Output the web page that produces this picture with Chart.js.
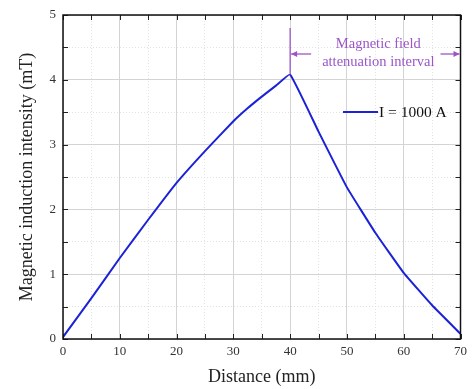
<!DOCTYPE html>
<html>
<head>
<meta charset="utf-8">
<script src="https://cdn.jsdelivr.net/npm/chart.js@4/dist/chart.umd.min.js"></script>
<style>
html,body{margin:0;padding:0;background:#fff;}
#wrap{width:472px;height:389px;position:relative;}
</style>
</head>
<body>
<div id="wrap"><canvas id="c" width="472" height="389"></canvas></div>
<script>
// ---- data ----
const distance = [0, 5, 10, 15, 20, 25, 30, 32.5, 35, 37.5, 40, 45, 50, 55, 60, 65, 70];
const induction = [0.03, 0.63, 1.25, 1.84, 2.41, 2.90, 3.36, 3.56, 3.74, 3.91, 4.08, 3.20, 2.34, 1.64, 1.02, 0.52, 0.08];
const seriesLabel = 'I = 1000 A';
const xTitle = 'Distance (mm)';
const yTitle = 'Magnetic induction intensity (mT)';
const annotationLines = ['Magnetic field', 'attenuation interval'];
const intervalStart = 40;
const intervalEnd = 70;

const FONT = "'Liberation Serif', 'Times New Roman', serif";
const PURPLE = '#9b55c8';
const BLUE = '#1c22d6';

const framePlugin = {
  id: 'frame',
  afterDraw(chart) {
    const {ctx, chartArea: a, scales: {x, y}} = chart;
    ctx.save();
    // inward ticks
    ctx.strokeStyle = '#222';
    ctx.lineWidth = 1;
    const tl = 5;
    for (let v = 0; v <= 70; v += 5) {
      const px = Math.round(x.getPixelForValue(v)) + 0.5;
      ctx.beginPath();
      ctx.moveTo(px, a.bottom); ctx.lineTo(px, a.bottom - tl);
      ctx.moveTo(px, a.top); ctx.lineTo(px, a.top + tl);
      ctx.stroke();
    }
    for (let v = 0; v <= 5; v += 0.5) {
      const py = Math.round(y.getPixelForValue(v)) + 0.5;
      ctx.beginPath();
      ctx.moveTo(a.left, py); ctx.lineTo(a.left + tl, py);
      ctx.moveTo(a.right, py); ctx.lineTo(a.right - tl, py);
      ctx.stroke();
    }
    // frame
    ctx.lineWidth = 1.5;
    ctx.strokeStyle = '#111';
    ctx.strokeRect(a.left, a.top, a.right - a.left, a.bottom - a.top);

    // annotation
    const xs = x.getPixelForValue(intervalStart);
    const xe = x.getPixelForValue(intervalEnd);
    const peakIdx = distance.indexOf(intervalStart);
    const yPeak = y.getPixelForValue(induction[peakIdx]);
    ctx.strokeStyle = PURPLE;
    ctx.fillStyle = PURPLE;
    ctx.lineWidth = 1.3;
    ctx.beginPath();
    ctx.moveTo(xs, a.top + 13); ctx.lineTo(xs, yPeak);
    ctx.stroke();
    const ay = a.top + 39;
    const arrow = (x0, x1) => {
      ctx.beginPath(); ctx.moveTo(x0, ay); ctx.lineTo(x1, ay); ctx.stroke();
      const dir = Math.sign(x1 - x0);
      ctx.beginPath();
      ctx.moveTo(x1, ay);
      ctx.lineTo(x1 - dir * 6, ay - 3);
      ctx.lineTo(x1 - dir * 6, ay + 3);
      ctx.closePath(); ctx.fill();
    };
    arrow(xs + 21, xs + 1);
    arrow(xe - 20, xe - 1);
    ctx.font = '14.5px ' + FONT;
    ctx.textAlign = 'center';
    ctx.textBaseline = 'middle';
    const cx = (xs + xe) / 2 + 3;
    ctx.fillText(annotationLines[0], cx, a.top + 29);
    ctx.fillText(annotationLines[1], cx, a.top + 47);

    // legend
    const ds = chart.data.datasets[0];
    const ly = 112;
    ctx.strokeStyle = ds.borderColor;
    ctx.lineWidth = 2;
    ctx.beginPath(); ctx.moveTo(343, ly); ctx.lineTo(378, ly); ctx.stroke();
    ctx.fillStyle = '#111';
    ctx.textAlign = 'left';
    ctx.font = '15.5px ' + FONT;
    ctx.fillText(ds.label, 379, ly + 1);
    ctx.restore();
  }
};

new Chart(document.getElementById('c'), {
  type: 'line',
  data: {
    datasets: [{
      label: seriesLabel,
      data: distance.map((d, i) => ({x: d, y: induction[i]})),
      borderColor: BLUE,
      borderWidth: 2,
      pointRadius: 0,
      tension: 0.1,
      fill: false
    }]
  },
  options: {
    responsive: false,
    animation: false,
    devicePixelRatio: 1,
    layout: {padding: {left: 0, top: 15, right: 9, bottom: 0}},
    plugins: {legend: {display: false}, tooltip: {enabled: false}},
    scales: {
      x: {
        type: 'linear', min: 0, max: 70,
        afterFit(s) { s.height = 50; },
        ticks: {
          stepSize: 5, autoSkip: false, maxRotation: 0, padding: 5,
          color: '#333', font: {family: FONT, size: 13},
          callback: v => (v % 10 === 0 ? String(v) : '')
        },
        grid: {
          drawTicks: false,
          color: c => (c.tick && c.tick.value % 10 === 0 ? '#d4d4d4' : '#e2e2e2'),
          lineWidth: 1
        },
        border: {display: false, dash: c => (c.tick && c.tick.value % 10 === 0 ? [] : [1, 2])},
        title: {display: true, text: xTitle, color: '#222', font: {family: FONT, size: 18}, padding: {top: 0, bottom: 1}}
      },
      y: {
        min: 0, max: 5,
        afterFit(s) { s.width = 63; },
        ticks: {
          stepSize: 0.5, autoSkip: false, padding: 7,
          color: '#333', font: {family: FONT, size: 13},
          callback: v => (Number.isInteger(v) ? String(v) : '')
        },
        grid: {
          drawTicks: false,
          color: c => (c.tick && Number.isInteger(c.tick.value) ? '#d4d4d4' : '#e2e2e2'),
          lineWidth: 1
        },
        border: {display: false, dash: c => (c.tick && Number.isInteger(c.tick.value) ? [] : [1, 2])},
        title: {display: true, text: yTitle, color: '#222', font: {family: FONT, size: 18}, padding: {top: 16, bottom: 0}}
      }
    }
  },
  plugins: [framePlugin]
});
</script>
</body>
</html>
